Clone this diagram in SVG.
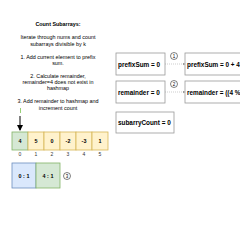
<svg xmlns="http://www.w3.org/2000/svg" width="240" height="240" viewBox="0 0 240 240">
<style>
text{font-family:"Liberation Sans",Arial,sans-serif;fill:#000}
.d{font-size:5.4px;text-anchor:middle}
.t{font-size:5.4px;font-weight:bold;text-anchor:middle}
.b{font-size:6.4px;font-weight:bold}
.c{font-size:5.4px;font-weight:bold;text-anchor:middle}
.i{font-size:5px;text-anchor:middle;fill:#333}
.box{fill:#fff;stroke:#999;stroke-width:0.8}
.y{fill:#fff2cc;stroke:#d6b656;stroke-width:0.8}
.g{fill:#d5e8d4;stroke:#82b366;stroke-width:0.8}
.bl{fill:#dae8fc;stroke:#6c8ebf;stroke-width:0.8}
.circ{fill:#fff;stroke:#000;stroke-width:0.5}
.cn{font-size:4.5px;text-anchor:middle}
</style>
<defs>
<marker id="ah" markerWidth="6" markerHeight="6" refX="5" refY="3" orient="auto" markerUnits="userSpaceOnUse"><path d="M0,0 L6,3 L0,6 Z" fill="#000"/></marker>
<marker id="sh" markerWidth="3" markerHeight="3" refX="2.5" refY="1.5" orient="auto" markerUnits="userSpaceOnUse"><path d="M0,0 L3,1.5 L0,3 Z" fill="#999"/></marker>
</defs>
<g id="description">
<text class="t" x="58" y="26">Count Subarrays:</text>
<text class="d" x="58" y="39">Iterate through nums and count</text>
<text class="d" x="58" y="45.5">subarrays divisible by k</text>
<text class="d" x="58" y="58.5">1. Add current element to prefix</text>
<text class="d" x="58" y="65">sum.</text>
<text class="d" x="58" y="78">2. Calculate remainder,</text>
<text class="d" x="58" y="84">remainder=4 does  not exist in</text>
<text class="d" x="58" y="90">hashmap</text>
<text class="d" x="58" y="103">3. Add remainder to hashmap and</text>
<text class="d" x="58" y="109.5">increment count</text>
</g>
<g id="array">
<rect class="g" x="12" y="132" width="16" height="18"/>
<rect class="y" x="28" y="132" width="16" height="18"/>
<rect class="y" x="44" y="132" width="16" height="18"/>
<rect class="y" x="60" y="132" width="16" height="18"/>
<rect class="y" x="76" y="132" width="16" height="18"/>
<rect class="y" x="92" y="132" width="16" height="18"/>
<text class="c" x="20" y="143">4</text>
<text class="c" x="36" y="143">5</text>
<text class="c" x="52" y="143">0</text>
<text class="c" x="68" y="143">-2</text>
<text class="c" x="84" y="143">-3</text>
<text class="c" x="100" y="143">1</text>
<text class="i" x="20" y="156">0</text>
<text class="i" x="36" y="156">1</text>
<text class="i" x="52" y="156">2</text>
<text class="i" x="68" y="156">3</text>
<text class="i" x="84" y="156">4</text>
<text class="i" x="100" y="156">5</text>
</g>
<g id="hashmap">
<rect class="bl" x="12" y="163" width="24" height="25"/>
<rect class="g" x="36" y="163" width="24" height="25"/>
<text class="c" x="24" y="177.5">0 : 1</text>
<text class="c" x="48" y="177.5">4 : 1</text>
<circle class="circ" cx="67" cy="176" r="3.5"/>
<text class="cn" x="67" y="177.6">3</text>
</g>
<g id="prefixSum">
<rect class="box" x="116" y="53" width="49" height="22"/>
<text class="b" x="118" y="66.5">prefixSum = 0</text>
</g>
<g id="prefixSum2">
<rect class="box" x="185" y="53" width="70" height="22"/>
<text class="b" x="187" y="66.5">prefixSum = 0 + 4</text>
</g>
<g id="remainder">
<rect class="box" x="116" y="81" width="49" height="22"/>
<text class="b" x="118" y="94.5">remainder = 0</text>
</g>
<g id="remainder2">
<rect class="box" x="185" y="81" width="70" height="22"/>
<text class="b" x="187" y="94.5">remainder = ((4 %</text>
</g>
<g id="subarryCount">
<rect class="box" x="116" y="112" width="58" height="21"/>
<text class="b" x="118" y="124.5">subarryCount = 0</text>
</g>
<g id="markers">
<circle class="circ" cx="174" cy="56" r="3.5"/>
<text class="cn" x="174" y="57.6">1</text>
<circle class="circ" cx="174" cy="84" r="3.5"/>
<text class="cn" x="174" y="85.6">2</text>
</g>
<g id="connectors">
<line x1="20.5" y1="108" x2="20.5" y2="113" stroke="#97d077" stroke-width="1"/>
<line x1="20" y1="116" x2="20" y2="130" stroke="#000" stroke-width="1" marker-end="url(#ah)"/>
<line x1="165" y1="64" x2="185" y2="64" stroke="#999" stroke-width="0.5" stroke-dasharray="1,1" marker-end="url(#sh)"/>
<line x1="165" y1="92" x2="185" y2="92" stroke="#999" stroke-width="0.5" stroke-dasharray="1,1" marker-end="url(#sh)"/>
</g>
</svg>
